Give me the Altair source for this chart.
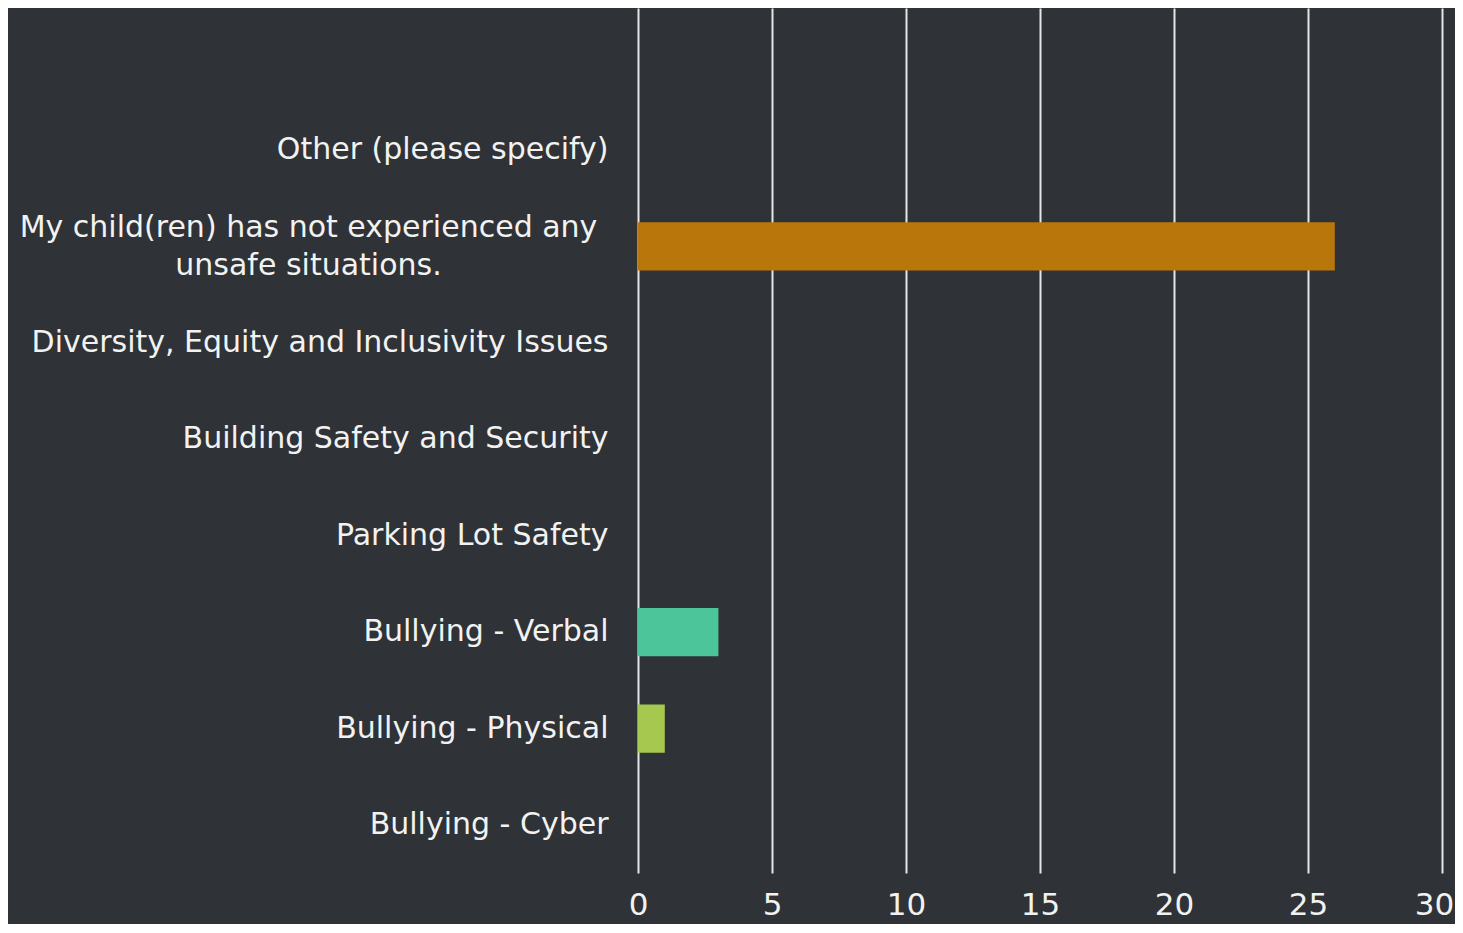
import altair as alt
import pandas as pd

categories = [
    "Other (please specify)",
    "My child(ren) has not experienced any unsafe situations.",
    "Diversity, Equity and Inclusivity Issues",
    "Building Safety and Security",
    "Parking Lot Safety",
    "Bullying - Verbal",
    "Bullying - Physical",
    "Bullying - Cyber",
]
values = [0, 26, 0, 0, 0, 3, 1, 0]
colors = ["#4f81bd", "#B8760B", "#8064a2", "#4bacc6", "#f79646", "#4CC59A", "#A6C84E", "#c0504d"]
x_ticks = [0, 5, 10, 15, 20, 25, 30]

df = pd.DataFrame({"category": categories, "value": values, "color": colors})

long_label = categories[1]
is_long = f"datum.label == '{long_label}'"
label_expr = (
    f"{is_long} ? "
    "['My child(ren) has not experienced any', 'unsafe situations.'] : datum.label"
)

FONT = "DejaVu Sans"

chart = (
    alt.Chart(df)
    .mark_bar()
    .encode(
        x=alt.X(
            "value:Q",
            scale=alt.Scale(domain=[0, 30], nice=False),
            axis=alt.Axis(
                values=x_ticks,
                title=None,
                grid=True,
                gridColor="#e6e6e6",
                gridWidth=2,
                gridOpacity=1,
                domain=False,
                ticks=False,
                labelFlush=False,
                labelFontSize=31,
                labelColor="#f2f2f2",
                labelFont=FONT,
                labelPadding=17,
                labelOffset={"condition": {"test": "datum.value == 30", "value": -8}, "value": 0},
            ),
        ),
        y=alt.Y(
            "category:N",
            sort=categories,
            scale=alt.Scale(paddingInner=0.5, paddingOuter=0.735, align=0.832),
            axis=alt.Axis(
                title=None,
                domain=False,
                ticks=False,
                grid=False,
                labelFontSize=30,
                labelColor="#f2f2f2",
                labelFont=FONT,
                labelPadding={"condition": {"test": is_long, "value": 330}, "value": 30},
                labelAlign={"condition": {"test": is_long, "value": "center"}, "value": "right"},
                labelOffset={"condition": {"test": is_long, "value": -18}, "value": 0},
                labelLimit=700,
                labelLineHeight=38,
                labelExpr=label_expr,
            ),
        ),
        color=alt.Color("color:N", scale=None, legend=None),
    )
    .properties(
        width=804,
        height=865,
        autosize=alt.AutoSizeParams(type="none"),
        padding={"left": 630, "top": 0, "right": 13, "bottom": 51},
        background="#2f3236",
    )
    .configure_view(stroke=None)
)

chart.save("out.html", embed_options={"renderer": "svg", "actions": False})
